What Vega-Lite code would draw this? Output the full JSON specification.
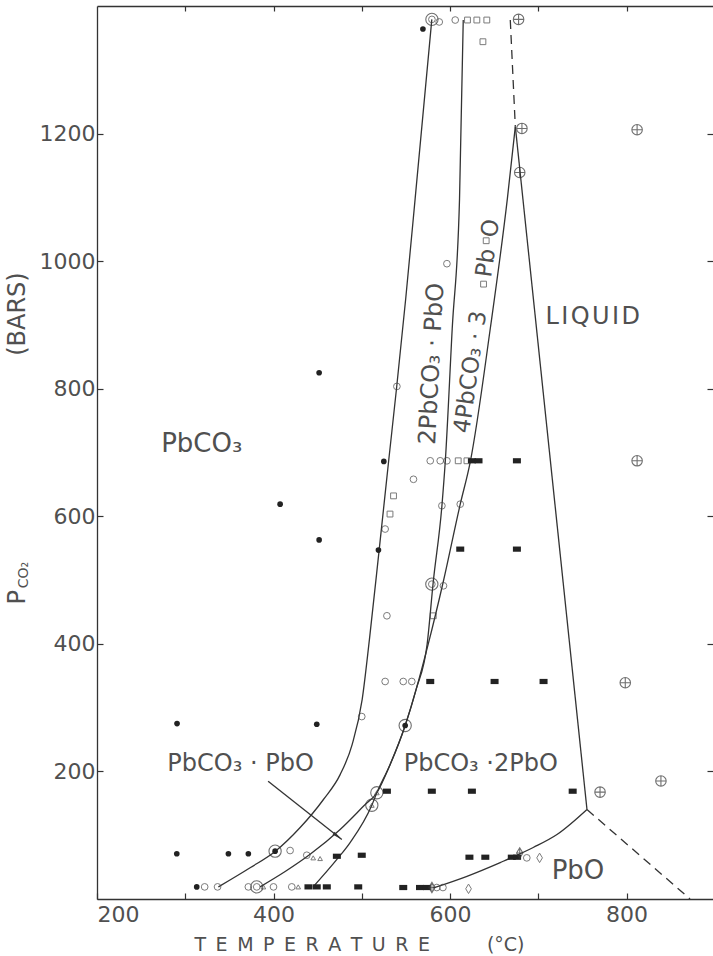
{
  "$schema": "https://vega.github.io/schema/vega-lite/v6.json",
  "width": 616,
  "height": 893,
  "autosize": {"type": "none"},
  "padding": {"left": 97, "top": 6, "right": 0, "bottom": 57},
  "background": "white",
  "config": {
    "view": {"stroke": null},
    "font": "DejaVu Sans",
    "axis": {"grid": false, "domainColor": "#333", "tickColor": "#333", "domainWidth": 1.3, "tickWidth": 1.2, "labelColor": "#505050", "labelFont": "DejaVu Sans", "labelFontSize": 22, "titleFont": "DejaVu Sans", "titleColor": "#505050", "titleFontWeight": "normal"}
  },
  "resolve": {"axis": {"x": "independent", "y": "independent"}},
  "datasets": {
    "curves": [
      {"curve": "c1", "ord": 1, "T": 337.5, "P": 19},
      {"curve": "c1", "ord": 2, "T": 373.5, "P": 49},
      {"curve": "c1", "ord": 3, "T": 401.8, "P": 74.5},
      {"curve": "c1", "ord": 4, "T": 430.2, "P": 112},
      {"curve": "c1", "ord": 5, "T": 456.6, "P": 156},
      {"curve": "c1", "ord": 6, "T": 475.5, "P": 195},
      {"curve": "c1", "ord": 7, "T": 489.1, "P": 242},
      {"curve": "c1", "ord": 8, "T": 500.5, "P": 313},
      {"curve": "c1", "ord": 9, "T": 508.7, "P": 407},
      {"curve": "c1", "ord": 10, "T": 519.7, "P": 547},
      {"curve": "c1", "ord": 11, "T": 530.5, "P": 687},
      {"curve": "c1", "ord": 12, "T": 539.6, "P": 803},
      {"curve": "c1", "ord": 13, "T": 549.8, "P": 941},
      {"curve": "c1", "ord": 14, "T": 560.5, "P": 1098},
      {"curve": "c1", "ord": 15, "T": 579.4, "P": 1379},
      {"curve": "c2", "ord": 1, "T": 384.8, "P": 19},
      {"curve": "c2", "ord": 2, "T": 413.2, "P": 43},
      {"curve": "c2", "ord": 3, "T": 441.5, "P": 70},
      {"curve": "c2", "ord": 4, "T": 475.5, "P": 109},
      {"curve": "c2", "ord": 5, "T": 502.7, "P": 146.5},
      {"curve": "c2", "ord": 6, "T": 517.1, "P": 166.6},
      {"curve": "c2", "ord": 7, "T": 532.2, "P": 211},
      {"curve": "c2", "ord": 8, "T": 549.2, "P": 272},
      {"curve": "c2", "ord": 9, "T": 561.7, "P": 329},
      {"curve": "c2", "ord": 10, "T": 574.1, "P": 399.5},
      {"curve": "c2", "ord": 11, "T": 581, "P": 497},
      {"curve": "c2", "ord": 12, "T": 590.8, "P": 616},
      {"curve": "c2", "ord": 13, "T": 594.6, "P": 685},
      {"curve": "c2", "ord": 14, "T": 602.5, "P": 894},
      {"curve": "c2", "ord": 15, "T": 610.8, "P": 1098},
      {"curve": "c2", "ord": 16, "T": 615, "P": 1378},
      {"curve": "c3", "ord": 1, "T": 444.9, "P": 19},
      {"curve": "c3", "ord": 2, "T": 471.8, "P": 62},
      {"curve": "c3", "ord": 3, "T": 486.8, "P": 88.5},
      {"curve": "c3", "ord": 4, "T": 511.4, "P": 147},
      {"curve": "c3", "ord": 5, "T": 517.1, "P": 166.6},
      {"curve": "c3", "ord": 6, "T": 532.2, "P": 211},
      {"curve": "c3", "ord": 7, "T": 549.2, "P": 272},
      {"curve": "c3", "ord": 8, "T": 561.7, "P": 329},
      {"curve": "c3", "ord": 9, "T": 575.3, "P": 399.5},
      {"curve": "c3", "ord": 10, "T": 592.3, "P": 497},
      {"curve": "c3", "ord": 11, "T": 611.6, "P": 619},
      {"curve": "c3", "ord": 12, "T": 622.9, "P": 685},
      {"curve": "c3", "ord": 13, "T": 645.6, "P": 894},
      {"curve": "c3", "ord": 14, "T": 665, "P": 1098},
      {"curve": "c3", "ord": 15, "T": 674, "P": 1211},
      {"curve": "liquidus", "ord": 1, "T": 674, "P": 1211},
      {"curve": "liquidus", "ord": 2, "T": 755.2, "P": 140.3},
      {"curve": "pbo", "ord": 1, "T": 581.3, "P": 17.4},
      {"curve": "pbo", "ord": 2, "T": 619.2, "P": 35.6},
      {"curve": "pbo", "ord": 3, "T": 656.9, "P": 57.1},
      {"curve": "pbo", "ord": 4, "T": 694.3, "P": 80.7},
      {"curve": "pbo", "ord": 5, "T": 721.2, "P": 101},
      {"curve": "pbo", "ord": 6, "T": 755.2, "P": 140.3},
      {"curve": "arrow", "ord": 1, "T": 393.9, "P": 184.5},
      {"curve": "arrow", "ord": 2, "T": 477.4, "P": 93.2}
    ],
    "dashed": [
      {"curve": "upper", "ord": 1, "T": 668.3, "P": 1378},
      {"curve": "upper", "ord": 2, "T": 674, "P": 1211},
      {"curve": "lower", "ord": 1, "T": 755.2, "P": 140.3},
      {"curve": "lower", "ord": 2, "T": 872, "P": 0}
    ],
    "pts": [
      {"sym": "dot", "T": 569.3, "P": 1364}, {"sym": "dot", "T": 451.7, "P": 825}, {"sym": "dot", "T": 407.5, "P": 619}, {"sym": "dot", "T": 451.7, "P": 563}, {"sym": "dot", "T": 525, "P": 686}, {"sym": "dot", "T": 518.9, "P": 547}, {"sym": "dot", "T": 290.7, "P": 275}, {"sym": "dot", "T": 449, "P": 274}, {"sym": "dot", "T": 549.2, "P": 272}, {"sym": "dot", "T": 290.4, "P": 71}, {"sym": "dot", "T": 348.9, "P": 71}, {"sym": "dot", "T": 371.5, "P": 71}, {"sym": "dot", "T": 401.8, "P": 75}, {"sym": "dot", "T": 313, "P": 19},
      {"sym": "ocirc", "T": 579.5, "P": 1379}, {"sym": "ocirc", "T": 587.8, "P": 1375}, {"sym": "ocirc", "T": 605.9, "P": 1378}, {"sym": "ocirc", "T": 596.5, "P": 996}, {"sym": "ocirc", "T": 539.8, "P": 803.6}, {"sym": "ocirc", "T": 577.6, "P": 687}, {"sym": "ocirc", "T": 588.9, "P": 687}, {"sym": "ocirc", "T": 596.5, "P": 687}, {"sym": "ocirc", "T": 558.6, "P": 658}, {"sym": "ocirc", "T": 526.5, "P": 580}, {"sym": "ocirc", "T": 590.8, "P": 616.5}, {"sym": "ocirc", "T": 611.6, "P": 619}, {"sym": "ocirc", "T": 579.4, "P": 493.6}, {"sym": "ocirc", "T": 592.6, "P": 491}, {"sym": "ocirc", "T": 528.5, "P": 444}, {"sym": "ocirc", "T": 526.5, "P": 341}, {"sym": "ocirc", "T": 547, "P": 341}, {"sym": "ocirc", "T": 556.7, "P": 341}, {"sym": "ocirc", "T": 500, "P": 286}, {"sym": "ocirc", "T": 418.8, "P": 76}, {"sym": "ocirc", "T": 437.7, "P": 68.6}, {"sym": "ocirc", "T": 687, "P": 64.5}, {"sym": "ocirc", "T": 322, "P": 19}, {"sym": "ocirc", "T": 336.6, "P": 19}, {"sym": "ocirc", "T": 371.5, "P": 19}, {"sym": "ocirc", "T": 381, "P": 19}, {"sym": "ocirc", "T": 400, "P": 19}, {"sym": "ocirc", "T": 420.7, "P": 19}, {"sym": "ocirc", "T": 585, "P": 18}, {"sym": "ocirc", "T": 592, "P": 18},
      {"sym": "bigcirc", "T": 579.5, "P": 1379}, {"sym": "bigcirc", "T": 579.4, "P": 493.6}, {"sym": "bigcirc", "T": 549.2, "P": 272}, {"sym": "bigcirc", "T": 517.1, "P": 166.6}, {"sym": "bigcirc", "T": 511.4, "P": 147}, {"sym": "bigcirc", "T": 401.8, "P": 75}, {"sym": "bigcirc", "T": 381, "P": 19},
      {"sym": "osq", "T": 619.8, "P": 1378}, {"sym": "osq", "T": 630.4, "P": 1378}, {"sym": "osq", "T": 641.7, "P": 1378}, {"sym": "osq", "T": 637.3, "P": 1344}, {"sym": "osq", "T": 641, "P": 1032}, {"sym": "osq", "T": 638, "P": 964}, {"sym": "osq", "T": 609.3, "P": 687}, {"sym": "osq", "T": 619.2, "P": 687}, {"sym": "osq", "T": 536, "P": 632}, {"sym": "osq", "T": 532, "P": 603.5}, {"sym": "osq", "T": 581, "P": 444},
      {"sym": "fsq", "T": 624.8, "P": 687}, {"sym": "fsq", "T": 632.3, "P": 687}, {"sym": "fsq", "T": 675.8, "P": 687}, {"sym": "fsq", "T": 611.6, "P": 548.5}, {"sym": "fsq", "T": 675.8, "P": 548.5}, {"sym": "fsq", "T": 577.6, "P": 341}, {"sym": "fsq", "T": 650.5, "P": 341}, {"sym": "fsq", "T": 706, "P": 341}, {"sym": "fsq", "T": 528.5, "P": 169}, {"sym": "fsq", "T": 579.4, "P": 169}, {"sym": "fsq", "T": 624.8, "P": 169}, {"sym": "fsq", "T": 739, "P": 169}, {"sym": "fsq", "T": 471.8, "P": 67}, {"sym": "fsq", "T": 500, "P": 68.6}, {"sym": "fsq", "T": 622, "P": 65.5}, {"sym": "fsq", "T": 640, "P": 65.5}, {"sym": "fsq", "T": 670, "P": 65.5}, {"sym": "fsq", "T": 676, "P": 65.5}, {"sym": "fsq", "T": 439.6, "P": 19}, {"sym": "fsq", "T": 449, "P": 19}, {"sym": "fsq", "T": 460.4, "P": 19}, {"sym": "fsq", "T": 496, "P": 19}, {"sym": "fsq", "T": 547, "P": 18}, {"sym": "fsq", "T": 566, "P": 18}, {"sym": "fsq", "T": 573.7, "P": 18},
      {"sym": "tri", "T": 445, "P": 64.5}, {"sym": "tri", "T": 452.8, "P": 63.4}, {"sym": "tri", "T": 388.5, "P": 19}, {"sym": "tri", "T": 428, "P": 19}, {"sym": "tri", "T": 517.1, "P": 166.6}, {"sym": "tri", "T": 511.4, "P": 147},
      {"sym": "xcirc", "T": 677.7, "P": 1379}, {"sym": "xcirc", "T": 681.5, "P": 1208}, {"sym": "xcirc", "T": 812, "P": 1206}, {"sym": "xcirc", "T": 679, "P": 1139}, {"sym": "xcirc", "T": 812, "P": 687}, {"sym": "xcirc", "T": 798.6, "P": 339}, {"sym": "xcirc", "T": 839, "P": 185}, {"sym": "xcirc", "T": 770, "P": 167.5},
      {"sym": "diam", "T": 701.5, "P": 64.5}, {"sym": "diam", "T": 621, "P": 16},
      {"sym": "xdiam", "T": 679, "P": 72}, {"sym": "xdiam", "T": 579.5, "P": 18}
    ]
  },
  "encoding": {
    "x": {"field": "T", "type": "quantitative", "scale": {"domain": [200, 898], "nice": false, "zero": false}, "axis": null},
    "y": {"field": "P", "type": "quantitative", "scale": {"domain": [0, 1400], "nice": false, "zero": false}, "axis": null}
  },
  "layer": [
    {
      "data": {"name": "curves"},
      "mark": {"type": "line", "color": "#333", "strokeWidth": 1.3, "interpolate": "monotone"},
      "encoding": {
        "x": {"field": "T", "type": "quantitative", "scale": {"domain": [200, 898], "nice": false, "zero": false},
          "axis": {"orient": "bottom", "values": [200, 300, 400, 500, 600, 700, 800], "format": "d", "labelExpr": "datum.value % 200 == 0 ? datum.label : ''", "tickSize": -6, "labelPadding": 11, "title": "T\u2002E\u2002M\u2002P\u2002E\u2002R\u2002A\u2002T\u2002U\u2002R\u2002E\u2003\u2003\u2003(°C)", "titleFontSize": 19, "titleX": 262, "titleY": 51, "titleAnchor": null, "titleAlign": "center", "titleBaseline": "alphabetic"}},
        "y": {"field": "P", "type": "quantitative", "scale": {"domain": [0, 1400], "nice": false, "zero": false},
          "axis": {"orient": "left", "values": [200, 400, 600, 800, 1000, 1200], "format": "d", "tickSize": -6, "labelPadding": 8, "title": null}},
        "detail": {"field": "curve"},
        "order": {"field": "ord", "type": "quantitative"}
      }
    },
    {
      "data": {"name": "dashed"},
      "mark": {"type": "line", "color": "#333", "strokeWidth": 1.3, "strokeDash": [9, 6]},
      "encoding": {
        "x": {"field": "T", "type": "quantitative", "scale": {"domain": [200, 898], "nice": false, "zero": false},
          "axis": {"orient": "top", "values": [300, 400, 500, 600, 700, 800], "labels": false, "tickSize": -5, "title": null}},
        "y": {"field": "P", "type": "quantitative", "scale": {"domain": [0, 1400], "nice": false, "zero": false},
          "axis": {"orient": "right", "values": [200, 400, 600, 800, 1000, 1200], "labels": false, "domain": false, "tickSize": -6, "title": null}},
        "detail": {"field": "curve"},
        "order": {"field": "ord", "type": "quantitative"}
      }
    },
    {
      "data": {"name": "pts"},
      "transform": [{"filter": "datum.sym == 'bigcirc'"}],
      "mark": {"type": "point", "shape": "circle", "filled": false, "size": 150, "stroke": "#333", "strokeWidth": 1.1}
    },
    {
      "data": {"name": "pts"},
      "transform": [{"filter": "datum.sym == 'dot'"}],
      "mark": {"type": "point", "shape": "circle", "filled": true, "size": 32, "color": "#222", "opacity": 1}
    },
    {
      "data": {"name": "pts"},
      "transform": [{"filter": "datum.sym == 'ocirc'"}],
      "mark": {"type": "point", "shape": "circle", "filled": false, "size": 45, "stroke": "#444", "strokeWidth": 1}
    },
    {
      "data": {"name": "pts"},
      "transform": [{"filter": "datum.sym == 'osq'"}],
      "mark": {"type": "point", "shape": "square", "filled": false, "size": 34, "stroke": "#444", "strokeWidth": 1}
    },
    {
      "data": {"name": "pts"},
      "transform": [{"filter": "datum.sym == 'fsq'"}],
      "mark": {"type": "point", "shape": "M-1,-0.65L1,-0.65L1,0.65L-1,0.65Z", "filled": true, "size": 64, "color": "#222", "opacity": 1}
    },
    {
      "data": {"name": "pts"},
      "transform": [{"filter": "datum.sym == 'tri'"}],
      "mark": {"type": "point", "shape": "triangle-up", "filled": false, "size": 22, "stroke": "#444", "strokeWidth": 1}
    },
    {
      "data": {"name": "pts"},
      "transform": [{"filter": "datum.sym == 'xcirc'"}],
      "mark": {"type": "point", "shape": "M-1,0A1,1,0,1,1,1,0A1,1,0,1,1,-1,0Z M-1,0L1,0 M0,-1L0,1", "filled": false, "size": 110, "stroke": "#333", "strokeWidth": 1.1}
    },
    {
      "data": {"name": "pts"},
      "transform": [{"filter": "datum.sym == 'diam'"}],
      "mark": {"type": "point", "shape": "M0,-1L0.6,0L0,1L-0.6,0Z", "filled": false, "size": 90, "stroke": "#444", "strokeWidth": 1}
    },
    {
      "data": {"name": "pts"},
      "transform": [{"filter": "datum.sym == 'xdiam'"}],
      "mark": {"type": "point", "shape": "M0,-1L0.6,0L0,1L-0.6,0Z M0,-1L0,1 M-0.6,0L0.6,0", "filled": false, "size": 110, "stroke": "#333", "strokeWidth": 1.1}
    },
    {
      "data": {"values": [{"T": 477.4, "P": 93.2}]},
      "mark": {"type": "point", "shape": "M0,0L0.35,2.2L-0.35,2.2Z", "filled": true, "size": 90, "color": "#333", "angle": 128, "opacity": 1}
    },
    {
      "data": {"values": [
        {"label": "L\u200aI\u200aQ\u200aU\u200aI\u200aD", "T": 761.8, "P": 912},
        {"label": "PbCO₃ · PbO", "T": 362.7, "P": 212},
        {"label": "PbCO₃ ·2PbO", "T": 634.8, "P": 212}
      ]},
      "mark": {"type": "text", "font": "DejaVu Sans", "fontSize": 24, "color": "#505050", "align": "center", "baseline": "middle"},
      "encoding": {"text": {"field": "label"}}
    },
    {
      "data": {"values": [
        {"label": "PbCO₃", "T": 318.7, "P": 713},
        {"label": "PbO", "T": 745, "P": 44}
      ]},
      "mark": {"type": "text", "font": "DejaVu Sans", "fontSize": 26, "color": "#505050", "align": "center", "baseline": "middle"},
      "encoding": {"text": {"field": "label"}}
    },
    {
      "data": {"values": [{"label": "2PbCO₃ · PbO", "T": 579.8, "P": 839}]},
      "mark": {"type": "text", "font": "DejaVu Sans", "fontSize": 24, "color": "#505050", "align": "center", "baseline": "middle", "angle": -87},
      "encoding": {"text": {"field": "label"}}
    },
    {
      "data": {"values": [{"label": "4PbCO₃ · 3\u2003\u2002Pb\u2002O", "T": 630.8, "P": 898}]},
      "mark": {"type": "text", "font": "DejaVu Sans", "fontSize": 23, "color": "#505050", "align": "center", "baseline": "middle", "angle": -82},
      "encoding": {"text": {"field": "label"}}
    },
    {
      "data": {"values": [{"label": "(BARS)", "T": 110.4, "P": 917}]},
      "mark": {"type": "text", "font": "DejaVu Sans", "fontSize": 24, "color": "#505050", "align": "center", "baseline": "middle", "angle": -90},
      "encoding": {"text": {"field": "label"}}
    },
    {
      "data": {"values": [{"label": "P", "T": 110.4, "P": 473}]},
      "mark": {"type": "text", "font": "DejaVu Sans", "fontSize": 24, "color": "#505050", "align": "center", "baseline": "middle", "angle": -90},
      "encoding": {"text": {"field": "label"}}
    },
    {
      "data": {"values": [{"label": "CO₂", "T": 117, "P": 508}]},
      "mark": {"type": "text", "font": "DejaVu Sans", "fontSize": 14, "color": "#505050", "align": "center", "baseline": "middle", "angle": -90},
      "encoding": {"text": {"field": "label"}}
    }
  ]
}
